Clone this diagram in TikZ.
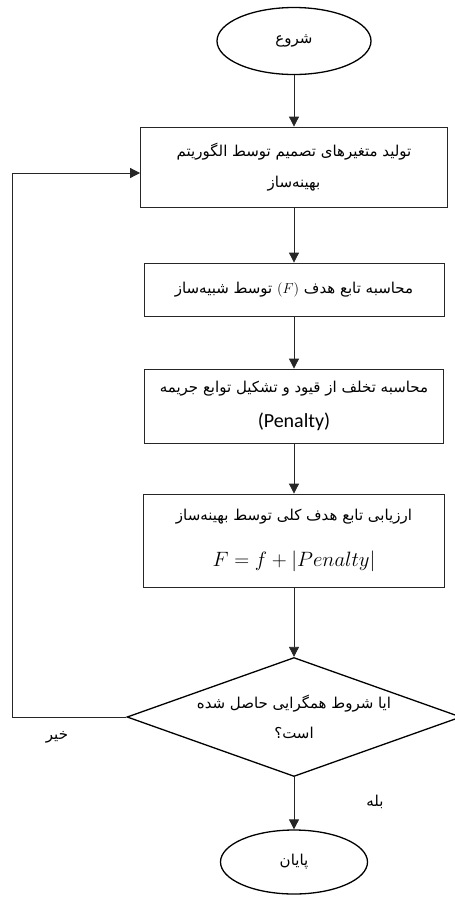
\documentclass[tikz,border=0pt]{standalone}
\usepackage{fontspec}
\usetikzlibrary{shapes.geometric,arrows.meta}
\TeXXeTstate=1
\newfontfamily\farsi[Script=Arabic]{DejaVu Sans}
\newfontfamily\latinsf{Carlito}
\begin{document}
\begin{tikzpicture}[x=1pt,y=-1pt]
	\tikzset{term/.style = {shape=ellipse,draw,line width=1.3pt,inner sep=0pt,font=\farsi\fontsize{15}{18}\selectfont}}
	\tikzset{box/.style = {shape=rectangle,draw=black!85,line width=.8pt,inner sep=0pt,align=center,font=\farsi\fontsize{15}{18}\selectfont}}
	\tikzset{edge/.style = {-{Triangle[length=10pt,width=10pt]},draw=black!85,line width=.8pt}}
	\useasboundingbox (0,0) rectangle (455,898);
	\node[term,minimum width=154pt,minimum height=67pt] (a) at (294,41) {\beginR شروع\endR};
	\node[box,minimum width=307pt,minimum height=80pt] (b) at (294,167) {\beginR تولید متغیرهای تصمیم توسط الگوریتم\endR\\[13pt]\beginR بهینه‌ساز\endR};
	\node[box,minimum width=300pt,minimum height=53pt] (c) at (294,289.5) {\beginR محاسبه تابع هدف $(F)$ توسط شبیه‌ساز\endR};
	\node[box,minimum width=299pt,minimum height=74pt] (d) at (294,406) {\beginR محاسبه تخلف از قیود و تشکیل توابع جریمه\endR\\[15pt]{\latinsf\fontsize{20}{22}\selectfont (Penalty)}};
	\node[box,minimum width=301pt,minimum height=93pt] (e) at (294,540.5) {\beginR ارزیابی تابع هدف کلی توسط بهینه‌ساز\endR\\[26pt]{\fontsize{22}{25}\selectfont $F=f+|Penalty|$}};
	\node[shape=diamond,draw,line width=1.3pt,minimum width=334pt,minimum height=119pt,aspect=2.8,inner sep=0pt,align=center,font=\farsi\fontsize{15}{18}\selectfont] (f) at (294,717) {\beginR ایا شروط همگرایی حاصل شده\endR\\[12pt]\beginR است؟\endR};
	\node[term,minimum width=147pt,minimum height=64pt] (g) at (294,862) {\beginR پایان\endR};
	\node[font=\farsi\fontsize{15}{18}\selectfont] (no) at (57,737) {\beginR خیر\endR};
	\node[font=\farsi\fontsize{15}{18}\selectfont] (yes) at (375,802) {\beginR بله\endR};
	\coordinate (back) at (12,717);
	\draw[edge] (a) -- (b);
	\draw[edge] (b) -- (c);
	\draw[edge] (c) -- (d);
	\draw[edge] (d) -- (e);
	\draw[edge] (e) -- (f);
	\draw[edge] (f) -- (g);
	\draw[edge] (f.west) -- (back) |- ([yshift=-6pt]b.west);
\end{tikzpicture}
\end{document}
